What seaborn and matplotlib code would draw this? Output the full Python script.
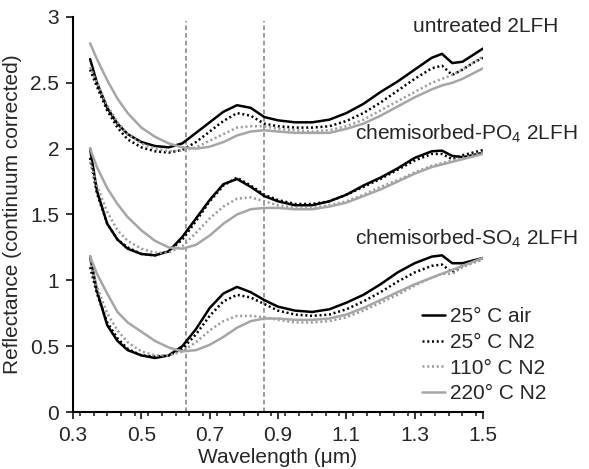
import numpy as np
import pandas as pd
import seaborn as sns
import matplotlib.pyplot as plt
from matplotlib.lines import Line2D
from matplotlib.ticker import MultipleLocator

wavelength = [0.35, 0.37, 0.40, 0.43, 0.46, 0.50, 0.54, 0.58, 0.62, 0.66,
              0.70, 0.74, 0.78, 0.82, 0.86, 0.90, 0.95, 1.00, 1.05, 1.10,
              1.15, 1.20, 1.25, 1.30, 1.35, 1.38, 1.41, 1.44, 1.47, 1.50]

conditions = ["25° C air", "25° C N2", "110° C N2", "220° C N2"]
samples = ["untreated 2LFH", "chemisorbed-PO$_4$ 2LFH", "chemisorbed-SO$_4$ 2LFH"]

# untreated
untreated_air = [2.68, 2.50, 2.31, 2.19, 2.11, 2.05, 2.02, 2.01, 2.04, 2.12,
                 2.20, 2.28, 2.33, 2.31, 2.24, 2.215, 2.20, 2.20, 2.22, 2.27,
                 2.34, 2.43, 2.51, 2.60, 2.69, 2.72, 2.65, 2.66, 2.71, 2.76]
untreated_25 = [2.60, 2.47, 2.29, 2.16, 2.07, 2.01, 1.98, 1.97, 1.99, 2.05,
                2.13, 2.21, 2.27, 2.25, 2.19, 2.17, 2.16, 2.16, 2.17, 2.21,
                2.27, 2.35, 2.44, 2.53, 2.61, 2.63, 2.56, 2.60, 2.65, 2.69]
untreated_110 = [2.62, 2.50, 2.33, 2.20, 2.11, 2.04, 2.00, 1.98, 1.985, 2.01,
                 2.06, 2.11, 2.16, 2.17, 2.17, 2.15, 2.14, 2.13, 2.14, 2.17,
                 2.22, 2.29, 2.36, 2.43, 2.50, 2.53, 2.56, 2.60, 2.65, 2.70]
untreated_220 = [2.80, 2.68, 2.52, 2.38, 2.27, 2.16, 2.09, 2.04, 2.01, 2.00,
                 2.015, 2.05, 2.10, 2.13, 2.14, 2.13, 2.12, 2.12, 2.12, 2.15,
                 2.19, 2.25, 2.32, 2.39, 2.45, 2.48, 2.50, 2.53, 2.57, 2.61]

# chemisorbed PO4
po4_air = [2.00, 1.68, 1.43, 1.31, 1.24, 1.20, 1.19, 1.22, 1.33, 1.47,
           1.61, 1.73, 1.77, 1.71, 1.64, 1.60, 1.57, 1.57, 1.60, 1.65,
           1.72, 1.78, 1.85, 1.93, 1.98, 1.985, 1.945, 1.935, 1.95, 1.97]
po4_25 = [1.93, 1.66, 1.43, 1.31, 1.25, 1.20, 1.19, 1.22, 1.31, 1.45,
          1.60, 1.72, 1.78, 1.72, 1.65, 1.61, 1.58, 1.58, 1.60, 1.65,
          1.71, 1.77, 1.84, 1.91, 1.96, 1.96, 1.92, 1.95, 1.97, 1.99]
po4_110 = [1.90, 1.72, 1.52, 1.38, 1.30, 1.24, 1.21, 1.21, 1.26, 1.36,
           1.47, 1.56, 1.62, 1.63, 1.60, 1.57, 1.55, 1.55, 1.57, 1.60,
           1.65, 1.71, 1.76, 1.82, 1.87, 1.89, 1.91, 1.93, 1.95, 1.97]
po4_220 = [2.00, 1.86, 1.70, 1.58, 1.48, 1.38, 1.30, 1.25, 1.24, 1.27,
           1.34, 1.43, 1.50, 1.54, 1.55, 1.55, 1.54, 1.54, 1.56, 1.59,
           1.64, 1.69, 1.75, 1.81, 1.86, 1.88, 1.90, 1.92, 1.94, 1.96]

# chemisorbed SO4
so4_air = [1.18, 0.92, 0.66, 0.54, 0.47, 0.43, 0.41, 0.43, 0.50, 0.63,
           0.79, 0.90, 0.95, 0.91, 0.85, 0.80, 0.77, 0.76, 0.78, 0.83,
           0.89, 0.97, 1.06, 1.13, 1.18, 1.19, 1.13, 1.13, 1.15, 1.17]
so4_25 = [1.10, 0.90, 0.68, 0.56, 0.48, 0.43, 0.42, 0.43, 0.48, 0.59,
          0.73, 0.84, 0.89, 0.87, 0.82, 0.77, 0.74, 0.73, 0.74, 0.78,
          0.84, 0.91, 0.99, 1.06, 1.11, 1.12, 1.06, 1.11, 1.14, 1.16]
so4_110 = [1.15, 0.95, 0.75, 0.62, 0.53, 0.46, 0.43, 0.43, 0.46, 0.53,
           0.62, 0.69, 0.73, 0.73, 0.72, 0.70, 0.68, 0.68, 0.69, 0.72,
           0.77, 0.83, 0.89, 0.96, 1.02, 1.05, 1.05, 1.10, 1.13, 1.16]
so4_220 = [1.18, 1.05, 0.90, 0.76, 0.68, 0.61, 0.54, 0.49, 0.46, 0.47,
           0.51, 0.57, 0.64, 0.69, 0.71, 0.71, 0.70, 0.70, 0.71, 0.74,
           0.79, 0.85, 0.91, 0.97, 1.02, 1.05, 1.08, 1.11, 1.14, 1.17]

band_centers = [0.63, 0.86]
xtick_labels = ["0.3", "0.5", "0.7", "0.9", "1.1", "1.3", "1.5"]
ytick_labels = ["0", "0.5", "1", "1.5", "2", "2.5", "3"]

curves = [
    (samples[0], [untreated_air, untreated_25, untreated_110, untreated_220]),
    (samples[1], [po4_air, po4_25, po4_110, po4_220]),
    (samples[2], [so4_air, so4_25, so4_110, so4_220]),
]
rows = []
for sample, series in curves:
    for cond, vals in zip(conditions, series):
        for w, r in zip(wavelength, vals):
            rows.append({"Wavelength": w, "Reflectance": r,
                         "Sample": sample, "Condition": cond})
df = pd.DataFrame(rows)

sns.set_style("ticks")
plt.rcParams["font.family"] = ["Liberation Sans", "DejaVu Sans"]
plt.rcParams["mathtext.default"] = "regular"
plt.rcParams["font.size"] = 15

fig, ax = plt.subplots(figsize=(5.89, 4.69), dpi=100)
fig.subplots_adjust(left=0.124, right=0.820, bottom=0.1215, top=0.9638)

palette = {"25° C air": "#000000", "25° C N2": "#000000",
           "110° C N2": "#9a9a9a", "220° C N2": "#a6a6a6"}
dashes = {"25° C air": "", "25° C N2": (0.8, 1.1),
          "110° C N2": (0.8, 1.1), "220° C N2": ""}

for b in band_centers:
    ax.axvline(b, ymax=0.99, color="#7f7f7f", lw=1.1, ls=(0, (3, 2)), zorder=1)

sns.lineplot(data=df, x="Wavelength", y="Reflectance", hue="Condition",
             style="Condition", units="Sample", estimator=None,
             palette=palette, dashes=dashes, linewidth=1.8,
             legend=False, ax=ax, zorder=2)

ax.set_xlim(0.3, 1.5)
ax.set_ylim(0, 3)
ax.set_xticks([0.3, 0.5, 0.7, 0.9, 1.1, 1.3, 1.5], xtick_labels)
ax.set_yticks([0, 0.5, 1, 1.5, 2, 2.5, 3], ytick_labels)
ax.xaxis.set_minor_locator(MultipleLocator(0.04))
ax.tick_params(axis="both", which="major", length=5, width=1.3, labelsize=15, pad=5)
ax.tick_params(axis="x", which="minor", length=3, width=1.2)
for s in ["left", "bottom"]:
    ax.spines[s].set_linewidth(1.5)
    ax.spines[s].set_color("black")
sns.despine(ax=ax)

ax.set_xlabel("Wavelength (μm)", fontsize=15, labelpad=2)
ax.set_ylabel("Reflectance (continuum corrected)", fontsize=15, labelpad=6)

ax.text(1.183, 0.963, samples[0], transform=ax.transAxes, ha="right",
        va="baseline", fontsize=15)
ax.text(1.232, 0.689, samples[1], transform=ax.transAxes, ha="right",
        va="baseline", fontsize=15)
ax.text(1.232, 0.423, samples[2], transform=ax.transAxes, ha="right",
        va="baseline", fontsize=15)

handles = [Line2D([], [], color=palette[c], lw=1.8,
                  dashes=dashes[c] if dashes[c] else (None, None))
           for c in conditions]
handles[0].set_linestyle("-")
handles[3].set_linestyle("-")
ax.legend(handles, conditions, loc="upper left", bbox_to_anchor=(0.852, 0.265),
          frameon=False, borderpad=0, borderaxespad=0, handlelength=1.1,
          handletextpad=0.25, labelspacing=0.32, fontsize=15)

fig.savefig("out.png", dpi=100)
